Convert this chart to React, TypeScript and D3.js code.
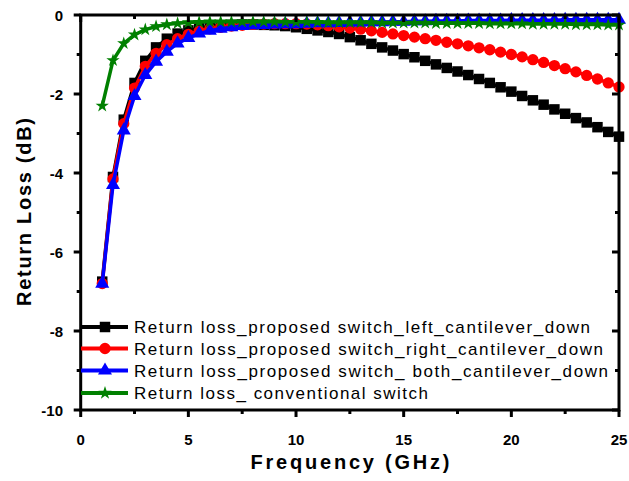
import React from "react";
import * as d3 from "d3";

const freq = [1, 1.5, 2, 2.5, 3, 3.5, 4, 4.5, 5, 5.5, 6, 6.5, 7, 7.5, 8, 8.5, 9, 9.5, 10, 10.5, 11, 11.5, 12, 12.5, 13, 13.5, 14, 14.5, 15, 15.5, 16, 16.5, 17, 17.5, 18, 18.5, 19, 19.5, 20, 20.5, 21, 21.5, 22, 22.5, 23, 23.5, 24, 24.5, 25];

const leftDown = [-6.75, -4.1, -2.65, -1.72, -1.16, -0.82, -0.6, -0.47, -0.39, -0.33, -0.29, -0.27, -0.25, -0.24, -0.24, -0.25, -0.26, -0.28, -0.31, -0.35, -0.39, -0.43, -0.48, -0.56, -0.64, -0.73, -0.82, -0.9, -0.99, -1.07, -1.16, -1.25, -1.34, -1.43, -1.52, -1.62, -1.72, -1.83, -1.94, -2.05, -2.16, -2.27, -2.39, -2.5, -2.61, -2.72, -2.84, -2.96, -3.08];

const rightDown = [-6.8, -4.15, -2.75, -1.85, -1.3, -0.97, -0.75, -0.6, -0.49, -0.41, -0.35, -0.31, -0.28, -0.26, -0.24, -0.23, -0.22, -0.22, -0.22, -0.23, -0.25, -0.27, -0.3, -0.33, -0.36, -0.4, -0.44, -0.48, -0.52, -0.56, -0.6, -0.64, -0.69, -0.73, -0.78, -0.83, -0.88, -0.94, -1.0, -1.06, -1.13, -1.2, -1.28, -1.36, -1.44, -1.53, -1.62, -1.72, -1.82];

const bothDown = [-6.8, -4.3, -2.92, -2.05, -1.52, -1.18, -0.93, -0.72, -0.58, -0.47, -0.4, -0.35, -0.31, -0.28, -0.26, -0.25, -0.24, -0.23, -0.23, -0.22, -0.21, -0.21, -0.2, -0.19, -0.19, -0.18, -0.18, -0.17, -0.17, -0.16, -0.16, -0.15, -0.15, -0.15, -0.14, -0.14, -0.14, -0.14, -0.13, -0.13, -0.13, -0.13, -0.13, -0.12, -0.12, -0.12, -0.12, -0.12, -0.12];

const conventional = [-2.3, -1.15, -0.72, -0.5, -0.37, -0.29, -0.24, -0.21, -0.19, -0.18, -0.17, -0.17, -0.17, -0.17, -0.17, -0.17, -0.17, -0.18, -0.18, -0.18, -0.18, -0.19, -0.19, -0.19, -0.19, -0.19, -0.2, -0.2, -0.2, -0.2, -0.2, -0.21, -0.21, -0.21, -0.21, -0.21, -0.22, -0.22, -0.22, -0.22, -0.23, -0.23, -0.23, -0.23, -0.24, -0.24, -0.24, -0.25, -0.25];

const seriesNames = [
  "Return loss_proposed switch_left_cantilever_down",
  "Return loss_proposed switch_right_cantilever_down",
  "Return loss_proposed switch_ both_cantilever_down",
  "Return loss_ conventional switch",
];
const seriesColors = ["#000000", "#ff0000", "#0000ff", "#008000"];
const seriesValues = [leftDown, rightDown, bothDown, conventional];

const xTicks = [0, 5, 10, 15, 20, 25];
const xMinorTicks = [2.5, 7.5, 12.5, 17.5, 22.5];
const yTicks = [0, -2, -4, -6, -8, -10];
const yMinorTicks = [-1, -3, -5, -7, -9];

const FONT = "Arial, 'Liberation Sans', sans-serif";

export default function App() {
  const x = d3.scaleLinear().domain([0, 25]).range([80.7, 619]);
  const y = d3.scaleLinear().domain([-10, 0]).range([410, 15]);
  const line = d3
    .line<[number, number]>()
    .x((d) => x(d[0]))
    .y((d) => y(d[1]));

  const symbols = [
    d3.symbol().type(d3.symbolSquare).size(110),
    d3.symbol().type(d3.symbolCircle).size(100),
    d3.symbol().type(d3.symbolTriangle).size(85),
    d3.symbol().type(d3.symbolStar).size(55),
  ];

  const legendTextEnd = [590, 603, 608, 428];
  const legendY = [327, 348.5, 370.5, 393];

  const [x0, x1] = x.range();
  const [yb, yt] = y.range();
  const majorLen = 7;
  const minorLen = 4;

  return (
    <svg width={629} height={481} style={{ position: "absolute", left: 0, top: 0, background: "#fff" }}>
      <rect x={0} y={0} width={629} height={481} fill="#fff" />
      {/* series */}
      {seriesValues.map((vals, si) => {
        const pts: [number, number][] = freq.map((f, i) => [f, vals[i]]);
        return (
          <g key={si}>
            <path d={line(pts) || ""} fill="none" stroke={seriesColors[si]} strokeWidth={3.5} />
            {pts.map((p, i) => (
              <path
                key={i}
                d={symbols[si]() || ""}
                transform={`translate(${x(p[0])},${y(p[1])})`}
                fill={seriesColors[si]}
              />
            ))}
          </g>
        );
      })}

      {/* frame */}
      <rect x={x0} y={yt} width={x1 - x0} height={yb - yt} fill="none" stroke="#000" strokeWidth={3} />

      {/* x ticks */}
      {xTicks.map((t) => (
        <g key={"xt" + t}>
          <line x1={x(t)} x2={x(t)} y1={yb} y2={yb + majorLen} stroke="#000" strokeWidth={3} />
          <line x1={x(t)} x2={x(t)} y1={yt} y2={yt + majorLen} stroke="#000" strokeWidth={3} />
          <text x={x(t)} y={445} textAnchor="middle" fontFamily={FONT} fontWeight="bold" fontSize={15}>
            {t}
          </text>
        </g>
      ))}
      {xMinorTicks.map((t) => (
        <g key={"xm" + t}>
          <line x1={x(t)} x2={x(t)} y1={yb} y2={yb + minorLen} stroke="#000" strokeWidth={3} />
          <line x1={x(t)} x2={x(t)} y1={yt} y2={yt + minorLen} stroke="#000" strokeWidth={3} />
        </g>
      ))}
      {/* y ticks */}
      {yTicks.map((t) => (
        <g key={"yt" + t}>
          <line x1={x0 - majorLen} x2={x0} y1={y(t)} y2={y(t)} stroke="#000" strokeWidth={3} />
          <line x1={x1 - majorLen} x2={x1} y1={y(t)} y2={y(t)} stroke="#000" strokeWidth={3} />
          <text x={63} y={y(t) + 5.5} textAnchor="end" fontFamily={FONT} fontWeight="bold" fontSize={15}>
            {t}
          </text>
        </g>
      ))}
      {yMinorTicks.map((t) => (
        <g key={"ym" + t}>
          <line x1={x0 - minorLen} x2={x0} y1={y(t)} y2={y(t)} stroke="#000" strokeWidth={3} />
          <line x1={x1 - minorLen} x2={x1} y1={y(t)} y2={y(t)} stroke="#000" strokeWidth={3} />
        </g>
      ))}

      {/* axis titles */}
      <text
        x={350}
        y={469}
        textAnchor="middle"
        fontFamily={FONT}
        fontWeight="bold"
        fontSize={20}
        textLength={199}
        lengthAdjust="spacing"
      >
        Frequency (GHz)
      </text>
      <text
        transform="translate(31,212) rotate(-90)"
        textAnchor="middle"
        fontFamily={FONT}
        fontWeight="bold"
        fontSize={20}
        textLength={188}
        lengthAdjust="spacing"
      >
        Return Loss (dB)
      </text>

      {/* legend */}
      {seriesNames.map((name, si) => (
        <g key={"lg" + si}>
          <line x1={81} x2={128} y1={legendY[si]} y2={legendY[si]} stroke={seriesColors[si]} strokeWidth={4} />
          <path d={symbols[si]() || ""} transform={`translate(105,${legendY[si]})`} fill={seriesColors[si]} />
          <text
            x={134}
            y={legendY[si] + 6}
            fontFamily={FONT}
            fontSize={17}
            textLength={legendTextEnd[si] - 134}
            lengthAdjust="spacing"
          >
            {name}
          </text>
        </g>
      ))}
    </svg>
  );
}
